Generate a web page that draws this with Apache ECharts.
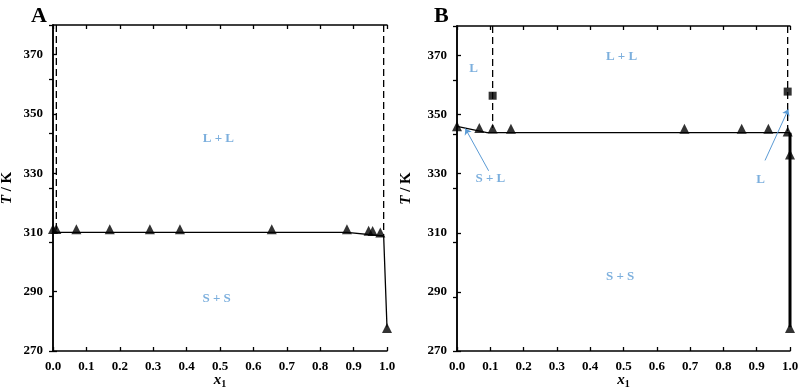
<!DOCTYPE html>
<html>
<head>
<meta charset="utf-8">
<script src="https://cdn.jsdelivr.net/npm/echarts@6/dist/echarts.min.js"></script>
<style>
  html, body { margin: 0; padding: 0; background: #fff; }
  #chart { width: 800px; height: 388px; }
</style>
</head>
<body>
<div id="chart"></div>
<script>
// panel A - experimental points (triangles)
const triAx = [0.0, 0.01, 0.07, 0.17, 0.29, 0.38, 0.655, 0.88, 0.945, 0.957, 0.98, 1.0]
const triAy = [311.2, 311.2, 311.1, 311.1, 311.1, 311.1, 311.1, 311.1, 310.6, 310.5, 310.0, 277.8]
// panel A - solid phase boundary
const lineAx = [0.0, 0.88, 0.99, 1.0]
const lineAy = [310.0, 310.0, 308.8, 278.0]
// panel A - dashed boundaries (x, top, bottom)
const dashA = [[0.01, 380, 311], [0.99, 380, 309]]

// panel B - triangles
const triBx = [0.0, 0.067, 0.107, 0.162, 0.683, 0.855, 0.935, 0.993, 1.0, 1.0]
const triBy = [346.1, 345.5, 345.3, 345.2, 345.2, 345.2, 345.2, 344.3, 336.5, 277.8]
// panel B - squares
const sqBx = [0.107, 0.993]
const sqBy = [356.4, 357.8]
// panel B - solid boundary (eutectic line, then the steep pure-component branch)
const lineBx = [0.0, 0.09, 1.0]
const lineBy = [346.0, 343.9, 343.9]
const edgeBx = [1.0, 1.0]
const edgeBy = [343.9, 278.0]
const dashB = [[0.107, 380, 345.5], [0.993, 380, 344.5]]

// region labels [x, T, text]
const labelsA = [[0.495, 341.7, 'L + L'], [0.49, 287.8, 'S + S']]
const labelsB = [[0.05, 365.5, 'L'], [0.494, 369.7, 'L + L'], [0.1, 328.3, 'S + L'], [0.912, 328.0, 'L'], [0.49, 295.2, 'S + S']]
// arrows [from, to]
const arrowsB = [[[0.095, 331.0], [0.025, 345.3]], [[0.925, 334.5], [0.995, 351.8]]]

const yTicks = [270, 290, 310, 330, 350, 370]
const serif = 'Liberation Serif'
const blue = '#5B9BD5'

const zip = (xs, ys) => xs.map((x, i) => [x, ys[i]])

function bottomAxis(grid) {
  return {
    type: 'value', gridIndex: grid, position: 'bottom', min: 0, max: 1, interval: 0.1,
    axisLine: { lineStyle: { color: '#000', width: 1.5 } },
    axisTick: { inside: true, length: 4, lineStyle: { color: '#000', width: 1.3 } },
    axisLabel: { color: '#000', fontFamily: serif, fontWeight: 'bold', fontSize: 13, margin: 9,
      formatter: v => v.toFixed(1) },
    splitLine: { show: false },
    name: '{x|x}{s|1}', nameLocation: 'middle', nameGap: 20, nameMoveOverlap: false,
    nameTextStyle: {
      rich: {
        x: { fontFamily: serif, fontStyle: 'italic', fontWeight: 'bold', fontSize: 15, color: '#000' },
        s: { fontFamily: serif, fontWeight: 'bold', fontSize: 10, color: '#000', padding: [8, 0, 0, 0] }
      }
    }
  }
}
function topAxis(grid) {
  return {
    type: 'value', gridIndex: grid, position: 'top', min: 0, max: 1, interval: 0.1,
    axisLine: { lineStyle: { color: '#000', width: 1.5 } },
    axisTick: { inside: true, length: 4, lineStyle: { color: '#000', width: 1.3 } },
    axisLabel: { show: false }, splitLine: { show: false }
  }
}
function leftAxis(grid, gap) {
  return {
    type: 'value', gridIndex: grid, position: 'left', min: 270, max: 380,
    axisLine: { show: true, lineStyle: { color: '#000', width: 1.5 } },
    axisTick: { inside: true, length: 4, customValues: yTicks, lineStyle: { color: '#000', width: 1.3 } },
    axisLabel: { color: '#000', fontFamily: serif, fontWeight: 'bold', fontSize: 13, margin: 10, customValues: yTicks },
    splitLine: { show: false },
    name: '{t|T}{k| / K}', nameLocation: 'middle', nameGap: gap, nameRotate: 90, nameMoveOverlap: false,
    nameTextStyle: {
      rich: {
        t: { fontFamily: serif, fontStyle: 'italic', fontWeight: 'bold', fontSize: 15, color: '#000' },
        k: { fontFamily: serif, fontWeight: 'bold', fontSize: 15, color: '#000' }
      }
    }
  }
}
function rightAxis(grid) {
  return {
    type: 'value', gridIndex: grid, position: 'right', min: 0, max: 6, interval: 1,
    axisLine: { show: true, lineStyle: { color: '#000', width: 1.5 } },
    axisTick: { show: true, inside: true, length: 4, lineStyle: { color: '#000', width: 1.3 } },
    axisLabel: { show: false }, splitLine: { show: false }
  }
}

function solid(name, xi, data, w) {
  return { name, type: 'line', xAxisIndex: xi, yAxisIndex: xi, data, symbol: 'none',
    lineStyle: { color: '#000', width: w || 1.3 }, silent: true, z: 3 }
}
function dashed(xi, d) {
  return { type: 'line', xAxisIndex: xi, yAxisIndex: xi, data: [[d[0], d[1]], [d[0], d[2]]], symbol: 'none',
    lineStyle: { color: '#000', width: 1.3, type: [7, 4] }, silent: true, z: 3 }
}
function marks(xi, data, symbol, size) {
  return { type: 'scatter', xAxisIndex: xi, yAxisIndex: xi, data, symbol, symbolSize: size,
    itemStyle: { color: '#000' }, z: 5 }
}
function texts(xi, data) {
  return { type: 'scatter', xAxisIndex: xi, yAxisIndex: xi, data, symbolSize: 0, silent: true,
    label: { show: true, position: 'inside', formatter: p => p.value[2],
      color: blue, fontFamily: serif, fontWeight: 'bold', fontSize: 13 } }
}

const option = {
  backgroundColor: '#fff',
  animation: false,
  title: [
    { text: 'A', left: 26, top: 0, textStyle: { fontFamily: serif, fontWeight: 'bold', fontSize: 22, color: '#000' } },
    { text: 'B', left: 429, top: 0, textStyle: { fontFamily: serif, fontWeight: 'bold', fontSize: 22, color: '#000' } }
  ],
  grid: [
    { left: 53, right: 413, top: 25, bottom: 37, outerBoundsMode: 'none', containLabel: false },
    { left: 457, right: 10, top: 26, bottom: 37, outerBoundsMode: 'none', containLabel: false }
  ],
  xAxis: [bottomAxis(0), topAxis(0), bottomAxis(1), topAxis(1)],
  yAxis: [leftAxis(0, 38), rightAxis(0), leftAxis(1, 43), rightAxis(1)],
  series: [
    // panel A
    solid('A boundary', 0, zip(lineAx, lineAy)),
    dashed(0, dashA[0]), dashed(0, dashA[1]),
    marks(0, zip(triAx, triAy), 'triangle', 10),
    texts(0, labelsA),
    // panel B
    solid('B boundary', 2, zip(lineBx, lineBy)),
    solid('B edge', 2, zip(edgeBx, edgeBy), 3),
    dashed(2, dashB[0]), dashed(2, dashB[1]),
    marks(2, zip(triBx, triBy), 'triangle', 10),
    marks(2, zip(sqBx, sqBy), 'rect', 8),
    texts(2, labelsB),
    {
      type: 'lines', coordinateSystem: 'cartesian2d', xAxisIndex: 2, yAxisIndex: 2,
      data: arrowsB.map(a => ({ coords: a })),
      symbol: ['none', 'arrow'], symbolSize: 6,
      lineStyle: { color: blue, width: 1, opacity: 1 }, silent: true, z: 4
    }
  ]
}

const chart = echarts.init(document.getElementById('chart'))
chart.setOption(option)
</script>
</body>
</html>
